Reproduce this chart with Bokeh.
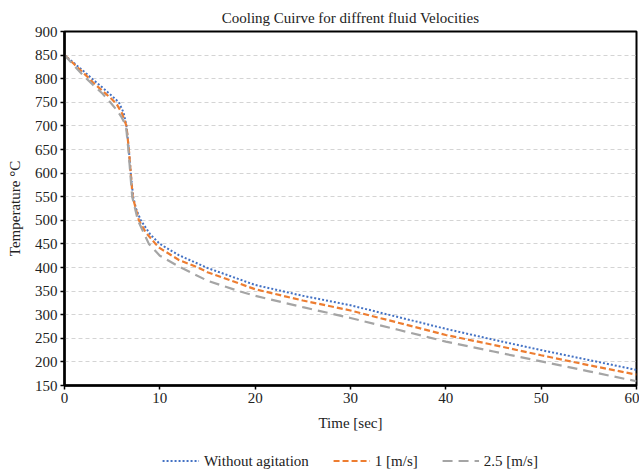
from bokeh.plotting import figure
from bokeh.layouts import column
from bokeh.models import FixedTicker, Legend, LegendItem
from bokeh.embed import file_html
from bokeh.resources import INLINE

# Without agitation
t_blue = [0, 1, 2, 3, 4, 5, 5.7, 6.2, 6.5, 6.75, 6.95, 7.2, 7.5, 8, 9, 10, 12, 15, 20, 25, 30, 35, 40, 45, 50, 55, 60]
v_blue = [850, 833, 816, 798, 781, 763, 750, 728, 700, 650, 600, 550, 525, 500, 470, 450, 426, 399, 363, 340, 320, 295, 270, 247, 225, 204, 183]
# 1 [m/s]
t_orange = [0, 1, 2, 3, 4, 5, 5.5, 6, 6.5, 6.75, 6.95, 7.15, 7.8, 8.5, 9.55, 10, 12, 14, 15, 20, 25, 30, 35, 40, 45, 50, 55, 60]
v_orange = [850, 831, 812, 792, 774, 756, 745, 728, 700, 650, 600, 550, 500, 475, 450, 441, 416, 400, 390, 354, 330, 309, 283, 257, 236, 214, 193, 173]
# 2.5 [m/s]
t_gray = [0, 1, 2, 3, 4, 4.8, 5.5, 6, 6.45, 6.7, 6.9, 7.1, 7.7, 8.85, 10, 12, 15, 18.3, 20, 25, 30, 35, 40, 45, 50, 55, 60]
v_gray = [850, 828, 806, 787, 768, 750, 733, 718, 700, 650, 600, 550, 500, 450, 425, 402, 372, 350, 340, 316, 293, 268, 243, 222, 201, 180, 159]

labels = ["Without agitation", "1 [m/s]", "2.5 [m/s]"]
colors = ["#4472C4", "#ED7D31", "#A5A5A5"]
dashes = ["2 2", "6 3", "10 6"]
widths = [2, 2.2, 2.2]
x_ticks = [0, 10, 20, 30, 40, 50, 60]
y_ticks = [150, 200, 250, 300, 350, 400, 450, 500, 550, 600, 650, 700, 750, 800, 850, 900]

FONT = "Liberation Serif"

p = figure(width=639, height=448, output_backend="svg", toolbar_location=None,
           x_range=(0, 60), y_range=(150, 900),
           title="Cooling Cuirve for diffrent fluid Velocities",
           min_border_left=64, min_border_right=3, min_border_top=31, min_border_bottom=63)

p.title.align = "center"
p.title.text_font = FONT
p.title.text_font_size = "15px"
p.title.text_font_style = "normal"
p.title.text_color = "#222222"
p.title.standoff = 11
p.title.offset = -25

series = [(t_blue, v_blue), (t_orange, v_orange), (t_gray, v_gray)]
for (t, v), c, d, w in zip(series, colors, dashes, widths):
    p.line(t, v, line_color=c, line_width=w, line_dash=d)

for ax in (p.xaxis[0], p.yaxis[0]):
    ax.axis_line_color = "black"
    ax.axis_line_width = 2.5
    ax.major_tick_line_color = "black"
    ax.major_tick_line_width = 1.5
    ax.major_tick_out = 4
    ax.major_tick_in = 0
    ax.minor_tick_line_color = None
    ax.major_label_text_font = FONT
    ax.major_label_text_font_size = "15px"
    ax.major_label_text_color = "#222222"
    ax.axis_label_text_font = FONT
    ax.axis_label_text_font_size = "15px"
    ax.axis_label_text_font_style = "normal"
    ax.axis_label_text_color = "#222222"
    ax.major_label_standoff = 3

p.xaxis[0].ticker = FixedTicker(ticks=x_ticks)
p.yaxis[0].ticker = FixedTicker(ticks=y_ticks)
p.xaxis.axis_label = "Time [sec]"
p.yaxis.axis_label = "Temperature \u00b0C"
p.xaxis.axis_label_standoff = 9
p.yaxis.axis_label_standoff = 9

p.xgrid.grid_line_color = None
p.ygrid.grid_line_color = "#d4d4d4"
p.ygrid.grid_line_dash = "4 3"
p.ygrid.grid_line_width = 1

p.outline_line_color = "black"
p.outline_line_width = 2
p.outline_line_alpha = 1

# legend strip below the chart (its lines lie outside its own view; only the legend shows)
pl = figure(width=639, height=25, output_backend="svg", toolbar_location=None,
            x_axis_type=None, y_axis_type=None, x_range=(-20, -10), y_range=(0, 1),
            min_border_left=19, min_border_right=0, min_border_top=0, min_border_bottom=0)
pl.outline_line_color = None
pl.xgrid.visible = False
pl.ygrid.visible = False
items = []
for (t, v), lab, c, d, w in zip(series, labels, colors, dashes, widths):
    r = pl.line(t, v, line_color=c, line_width=w, line_dash=d)
    items.append(LegendItem(label=lab, renderers=[r]))

legend = Legend(items=items, orientation="horizontal", location="center")
legend.label_text_font = FONT
legend.label_text_font_size = "15px"
legend.label_text_color = "#222222"
legend.glyph_width = 37
legend.glyph_height = 16
legend.label_standoff = 5
legend.spacing = 24
legend.border_line_color = None
legend.background_fill_alpha = 0
legend.padding = 2
legend.margin = 0
pl.add_layout(legend, "center")

open("out.html", "w").write(file_html(column(p, pl), INLINE))
